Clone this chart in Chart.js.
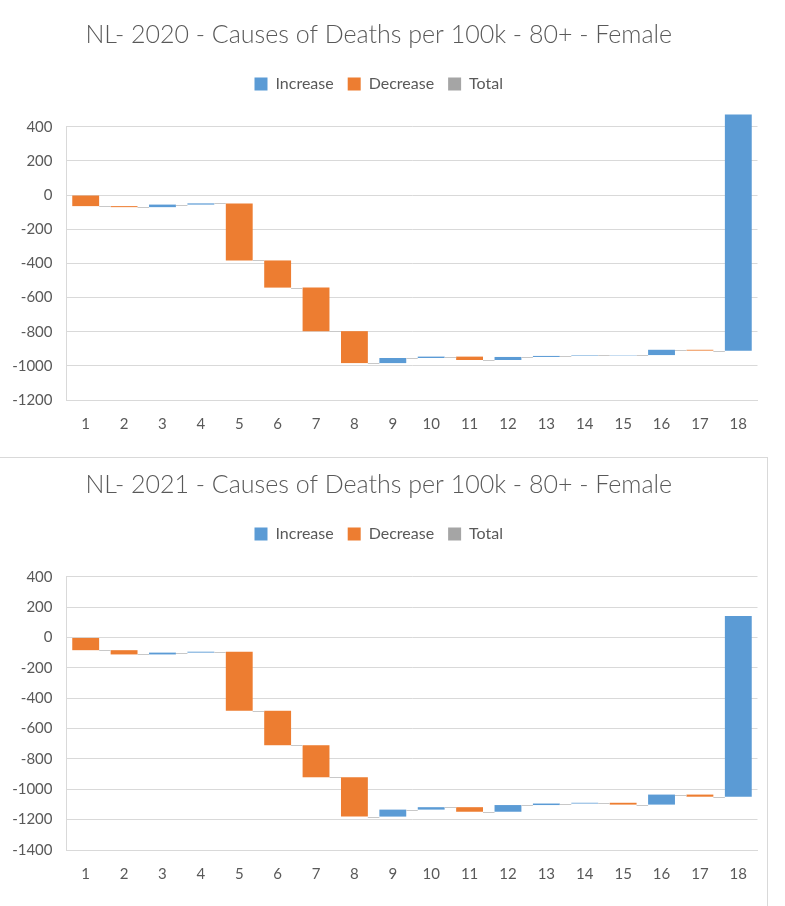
<!DOCTYPE html>
<html>
<head>
<meta charset="utf-8">
<script src="https://cdn.jsdelivr.net/npm/chart.js@4.4.1/dist/chart.umd.min.js"></script>
<style>
html,body{margin:0;padding:0;background:#fff;width:785px;height:906px;overflow:hidden;}
.wrap{position:absolute;left:0;width:785px;height:448px;}
#w1{top:0}
#w2{top:450px}
#frame{position:absolute;left:-2px;top:457px;width:770px;height:470px;border:1px solid #d9d9d9;box-sizing:border-box;pointer-events:none}
</style>
</head>
<body>
<div class="wrap" id="w1"><canvas id="c1" width="785" height="448"></canvas></div>
<div class="wrap" id="w2"><canvas id="c2" width="785" height="448"></canvas></div>
<div id="frame"></div>
<script>
// ---- data ----
const categories = ['1','2','3','4','5','6','7','8','9','10','11','12','13','14','15','16','17','18'];
const changes2020 = [-65, -6, 15, 7, -334, -159, -255, -187, 30, 8, -20, 18, 6, 3, 2, 31, -5, 1382];
const changes2021 = [-84, -28, 12, 6, -389, -227, -211, -259, 46, 16, -30, 44, 10, 5, -12, 66, -14, 1190];
const yTicks2020 = [400, 200, 0, -200, -400, -600, -800, -1000, -1200];
const yTicks2021 = [400, 200, 0, -200, -400, -600, -800, -1000, -1200, -1400];
const title2020 = 'NL- 2020 - Causes of Deaths per 100k - 80+ - Female';
const title2021 = 'NL- 2021 - Causes of Deaths per 100k - 80+ - Female';
const seriesNames = ['Increase', 'Decrease', 'Total'];
const seriesColors = ['#5B9BD5', '#ED7D31', '#A5A5A5'];

const TEXT = '#595959';
const GRID = '#d9d9d9';

function buildWaterfall(changes) {
  const inc = [], dec = [], tot = [], levels = [];
  let cum = 0;
  changes.forEach(d => {
    const start = cum, end = cum + d;
    inc.push(d > 0 ? [start, end] : null);
    dec.push(d < 0 ? [start, end] : null);
    tot.push(null);
    levels.push(end);
    cum = end;
  });
  return {inc, dec, tot, levels};
}

function makeChart(id, changes, ticks, title) {
  const wf = buildWaterfall(changes);
  const legendGap = {
    id: 'legendGap',
    beforeInit(chart) {
      const orig = chart.legend.fit;
      chart.legend.fit = function () { orig.call(this); this.height += 24.7; };
    }
  };
  const connectors = {
    id: 'connectors',
    afterDatasetsDraw(chart) {
      const {ctx} = chart;
      const y = chart.scales.y;
      const metas = [0, 1].map(i => chart.getDatasetMeta(i));
      const barAt = i => {
        for (const m of metas) {
          if (chart.data.datasets[m.index].data[i]) return m.data[i];
        }
        return null;
      };
      ctx.save();
      ctx.strokeStyle = '#c8c8c8';
      ctx.lineWidth = 1;
      for (let i = 0; i < wf.levels.length - 1; i++) {
        const a = barAt(i), b = barAt(i + 1);
        if (!a || !b) continue;
        const yy = Math.round(y.getPixelForValue(wf.levels[i])) + 0.5;
        ctx.beginPath();
        ctx.moveTo(a.x + a.width / 2, yy);
        ctx.lineTo(b.x - b.width / 2, yy);
        ctx.stroke();
      }
      ctx.restore();
    }
  };
  const common = {grouped: false, barPercentage: 0.7, categoryPercentage: 1, borderWidth: 0, clip: false};
  return new Chart(document.getElementById(id), {
    type: 'bar',
    data: {
      labels: categories,
      datasets: [
        Object.assign({label: seriesNames[0], data: wf.inc, backgroundColor: seriesColors[0]}, common),
        Object.assign({label: seriesNames[1], data: wf.dec, backgroundColor: seriesColors[1]}, common),
        Object.assign({label: seriesNames[2], data: wf.tot, backgroundColor: seriesColors[2]}, common)
      ]
    },
    options: {
      responsive: false,
      animation: false,
      devicePixelRatio: 1,
      layout: {padding: {left: 0, right: 27.5, top: 0, bottom: 0}},
      plugins: {
        tooltip: {enabled: false},
        title: {
          display: true,
          text: title,
          color: TEXT,
          font: {family: 'Lato', size: 25, weight: '300', lineHeight: 1.2},
          padding: {top: 20, bottom: 12}
        },
        legend: {
          display: true,
          labels: {
            color: TEXT,
            font: {family: 'Lato', size: 16},
            boxWidth: 13,
            boxHeight: 13,
            padding: 14
          }
        }
      },
      scales: {
        x: {
          grid: {display: false, drawTicks: false},
          border: {display: true, color: GRID},
          ticks: {color: TEXT, font: {family: 'Lato', size: 15}, padding: 15, maxRotation: 0}
        },
        y: {
          min: Math.min(...ticks),
          max: Math.max(...ticks),
          afterFit(scale) { scale.width = 66.5; },
          afterBuildTicks(scale) { scale.ticks = ticks.map(v => ({value: v})); },
          grid: {color: GRID, drawTicks: false},
          border: {display: true, color: GRID},
          ticks: {color: TEXT, font: {family: 'Lato', size: 15}, padding: 14, callback: v => String(v)}
        }
      }
    },
    plugins: [legendGap, connectors]
  });
}

makeChart('c1', changes2020, yTicks2020, title2020);
makeChart('c2', changes2021, yTicks2021, title2021);
</script>
</body>
</html>
